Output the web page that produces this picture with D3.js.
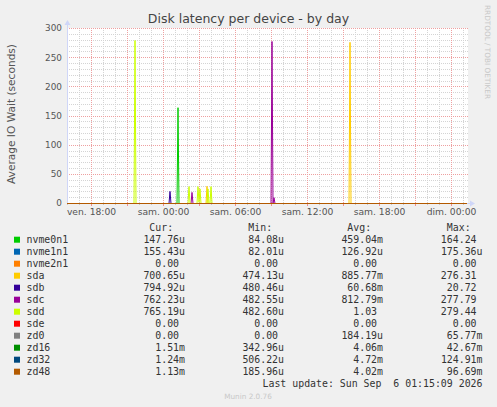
<!DOCTYPE html>
<meta charset="utf-8">
<style>
body { margin: 0; background: #f0f0f0; }
text { font-family: "DejaVu Sans", sans-serif; }
.mono { font-family: "DejaVu Sans Mono", monospace; font-size: 9.9px; fill: #333; }
</style>
<body>
<script src="https://d3js.org/d3.v7.min.js"></script>
<script>
var width = 497,
	height = 407,
	pLeft = 67,
	pRight = 467,
	pTop = 28,
	pBottom = 203;

var tStart = "2026-09-04 16:00",
	tEnd = "2026-09-06 01:20";

var names = ["nvme0n1", "nvme1n1", "nvme2n1", "sda", "sdb", "sdc", "sdd", "sde", "zd0", "zd16", "zd32", "zd48"];
var colors = ["#00cc00", "#0066b3", "#ff8000", "#ffcc00", "#330099", "#990099", "#ccff00", "#ff0000", "#808080", "#008f00", "#00487d", "#b35a00"];
var cur = ["147.76u", "155.43u", "0.00", "700.65u", "794.92u", "762.23u", "765.19u", "0.00", "0.00", "1.51m", "1.24m", "1.13m"];
var min = ["84.08u", "82.01u", "0.00", "474.13u", "480.46u", "482.55u", "482.60u", "0.00", "0.00", "342.96u", "506.22u", "185.96u"];
var avg = ["459.04m", "126.92u", "0.00", "885.77m", "60.68m", "812.79m", "1.03", "0.00", "184.19u", "4.06m", "4.72m", "4.02m"];
var max = ["164.24", "175.36u", "0.00", "276.31", "20.72", "277.79", "279.44", "0.00", "65.77m", "42.67m", "124.91m", "96.69m"];

// readings: [time, seconds]
var pts_nvme0n1 = [[tStart, 0], ["2026-09-05 01:10", 0], ["2026-09-05 01:15", 164.24], ["2026-09-05 01:20", 0], [tEnd, 0]];
var pts_nvme1n1 = [[tStart, 0], [tEnd, 0]];
var pts_nvme2n1 = [[tStart, 0], [tEnd, 0]];
var pts_sda = [[tStart, 0], ["2026-09-05 03:35", 0], ["2026-09-05 03:40", 29.5], ["2026-09-05 03:45", 0],
	["2026-09-05 15:30", 0], ["2026-09-05 15:35", 276.31], ["2026-09-05 15:40", 0], [tEnd, 0]];
var pts_sdb = [[tStart, 0], ["2026-09-05 00:30", 0], ["2026-09-05 00:35", 20.72], ["2026-09-05 00:40", 0], [tEnd, 0]];
var pts_sdc = [[tStart, 0], ["2026-09-05 02:20", 0], ["2026-09-05 02:25", 19], ["2026-09-05 02:30", 0],
	["2026-09-05 09:00", 0], ["2026-09-05 09:05", 277.79], ["2026-09-05 09:10", 0], ["2026-09-05 09:15", 10], ["2026-09-05 09:20", 0], [tEnd, 0]];
var pts_sdd = [[tStart, 0], ["2026-09-04 21:35", 0], ["2026-09-04 21:40", 279.44], ["2026-09-04 21:45", 0],
	["2026-09-05 02:05", 0], ["2026-09-05 02:10", 29], ["2026-09-05 02:15", 0],
	["2026-09-05 02:50", 0], ["2026-09-05 02:55", 29], ["2026-09-05 03:00", 2], ["2026-09-05 03:05", 25], ["2026-09-05 03:10", 0],
	["2026-09-05 03:40", 0], ["2026-09-05 03:45", 25], ["2026-09-05 03:50", 0],
	["2026-09-05 03:55", 0], ["2026-09-05 04:00", 29], ["2026-09-05 04:05", 0], [tEnd, 0]];
var pts_sde = [[tStart, 0], [tEnd, 0]];
var pts_zd0 = [[tStart, 0], [tEnd, 0]];
var pts_zd16 = [[tStart, 0], [tEnd, 0]];
var pts_zd32 = [[tStart, 0], [tEnd, 0]];
var pts_zd48 = [[tStart, 0], [tEnd, 0]];
var points = [pts_nvme0n1, pts_nvme1n1, pts_nvme2n1, pts_sda, pts_sdb, pts_sdc, pts_sdd, pts_sde, pts_zd0, pts_zd16, pts_zd32, pts_zd48];

var yTicks = [0, 50, 100, 150, 200, 250, 300];

var parse = d3.timeParse("%Y-%m-%d %H:%M");
var fr = d3.timeFormatLocale({
	dateTime: "%A %e %B %Y à %X", date: "%d/%m/%Y", time: "%H:%M:%S", periods: ["AM", "PM"],
	days: ["dimanche", "lundi", "mardi", "mercredi", "jeudi", "vendredi", "samedi"],
	shortDays: ["dim.", "lun.", "mar.", "mer.", "jeu.", "ven.", "sam."],
	months: ["janvier", "février", "mars", "avril", "mai", "juin", "juillet", "août", "septembre", "octobre", "novembre", "décembre"],
	shortMonths: ["janv.", "févr.", "mars", "avr.", "mai", "juin", "juil.", "août", "sept.", "oct.", "nov.", "déc."]
});

var x = d3.scaleTime().domain([parse(tStart), parse(tEnd)]).range([pLeft, pRight]);
var y = d3.scaleLinear().domain([0, 300]).range([pBottom, pTop]);

var svg = d3.select("body").append("svg")
			.attr("width", width)
			.attr("height", height);

svg.append("rect")
	.attr("x", pLeft).attr("y", pTop)
	.attr("width", pRight - pLeft + 1).attr("height", pBottom - pTop)
	.style("fill", "white");

var grid = svg.append("g").attr("shape-rendering", "crispEdges");

// minor grid
grid.selectAll(".hmin").data(d3.range(10, 301, 10).filter(function(v) { return v % 50; }))
	.enter().append("line")
	.attr("x1", pLeft).attr("x2", pRight + 1)
	.attr("y1", function(d) { return Math.round(y(d)) + 0.5; })
	.attr("y2", function(d) { return Math.round(y(d)) + 0.5; })
	.style("stroke", "#d4d4d4").style("stroke-dasharray", "1,1");

var hours = x.ticks(d3.timeHour.every(1));
grid.selectAll(".vmin").data(hours.filter(function(d) { return d.getHours() % 3; }))
	.enter().append("line")
	.attr("x1", function(d) { return Math.round(x(d)) + 0.5; })
	.attr("x2", function(d) { return Math.round(x(d)) + 0.5; })
	.attr("y1", pTop).attr("y2", pBottom)
	.style("stroke", "#d4d4d4").style("stroke-dasharray", "1,1");

// major grid
grid.selectAll(".hmaj").data(yTicks.slice(1))
	.enter().append("line")
	.attr("x1", pLeft).attr("x2", pRight + 1)
	.attr("y1", function(d) { return Math.round(y(d)) + 0.5; })
	.attr("y2", function(d) { return Math.round(y(d)) + 0.5; })
	.style("stroke", "#eea0a0").style("stroke-dasharray", "1,1");

grid.selectAll(".vmaj").data(hours.filter(function(d) { return d.getHours() % 3 == 0; }))
	.enter().append("line")
	.attr("x1", function(d) { return Math.round(x(d)) + 0.5; })
	.attr("x2", function(d) { return Math.round(x(d)) + 0.5; })
	.attr("y1", pTop).attr("y2", pBottom)
	.style("stroke", "#eea0a0").style("stroke-dasharray", "1,1");

// tick marks under the axis
grid.selectAll(".tk").data(hours)
	.enter().append("line")
	.attr("x1", function(d) { return Math.round(x(d)) + 0.5; })
	.attr("x2", function(d) { return Math.round(x(d)) + 0.5; })
	.attr("y1", pBottom).attr("y2", function(d) { return d.getHours() % 3 ? pBottom + 2 : pBottom + 3; })
	.style("stroke", function(d) { return d.getHours() % 3 ? "#c8c8c8" : "#f09090"; });

// axes frame
svg.append("line")
	.attr("x1", pLeft + 0.5).attr("x2", pLeft + 0.5).attr("y1", pTop - 4).attr("y2", pBottom)
	.style("stroke", "#cfd6f8");
svg.append("path").attr("d", "M" + (pLeft - 2.5) + "," + (pTop - 3) + "L" + (pLeft + 0.5) + "," + (pTop - 8) + "L" + (pLeft + 3.5) + "," + (pTop - 3) + "Z")
	.style("fill", "#cfd6f8");
svg.append("line")
	.attr("x1", pLeft).attr("x2", pRight + 4).attr("y1", pBottom + 0.5).attr("y2", pBottom + 0.5)
	.style("stroke", "#cfd6f8");
svg.append("path").attr("d", "M" + (pRight + 3) + "," + (pBottom - 2.5) + "L" + (pRight + 8) + "," + (pBottom + 0.5) + "L" + (pRight + 3) + "," + (pBottom + 3.5) + "Z")
	.style("fill", "#cfd6f8");

// series
var line = d3.line()
	.x(function(d) { return x(parse(d[0])); })
	.y(function(d) { return y(d[1]) + 0.5; });

svg.append("g").selectAll("path").data(points)
	.enter().append("path")
	.attr("d", line)
	.style("fill", "none")
	.style("stroke", function(d, i) { return colors[i]; })
	.style("stroke-width", 1);

// axis labels
var yAxis = svg.append("g")
	.attr("transform", "translate(" + (pLeft - 5) + ",0)")
	.call(d3.axisLeft(y).tickValues(yTicks).tickSize(0).tickPadding(0));
yAxis.select(".domain").remove();
yAxis.selectAll("text").style("font-family", "DejaVu Sans").style("font-size", "8.9px").style("fill", "#555");

var xAxis = svg.append("g")
	.attr("transform", "translate(0," + (pBottom + 4) + ")")
	.call(d3.axisBottom(x).ticks(d3.timeHour.every(6)).tickFormat(fr.format("%a %H:%M")).tickSize(0).tickPadding(1));
xAxis.select(".domain").remove();
xAxis.selectAll("text").style("font-family", "DejaVu Sans").style("font-size", "9.2px").style("fill", "#555");

svg.append("text")
	.attr("x", 248.5).attr("y", 23)
	.attr("text-anchor", "middle")
	.style("font-size", "12.5px").style("fill", "#444")
	.text("Disk latency per device - by day");

svg.append("text")
	.attr("transform", "translate(15,114)rotate(-90)")
	.attr("text-anchor", "middle")
	.style("font-size", "10.6px").style("fill", "#555")
	.text("Average IO Wait (seconds)");

svg.append("text")
	.attr("transform", "translate(485,5)rotate(90)")
	.style("font-size", "7.3px").style("fill", "#c8c8c8")
	.text("RRDTOOL / TOBI OETIKER");

// legend
var cols = [{ h: "Cur:", v: cur, r: 185 }, { h: "Min:", v: min, r: 284 }, { h: "Avg:", v: avg, r: 383 }, { h: "Max:", v: max, r: 482.5 }];
var charW = 5.96;

svg.selectAll(".hd").data(cols)
	.enter().append("text")
	.attr("class", "mono")
	.attr("x", function(d) { return d.r - 2 * charW; })
	.attr("y", 231)
	.attr("text-anchor", "end")
	.text(function(d) { return d.h; });

var rows = svg.append("g").selectAll("g").data(names)
	.enter().append("g")
	.attr("transform", function(d, i) { return "translate(0," + (239.7 + 12 * i) + ")"; });

rows.append("rect")
	.attr("x", 14).attr("y", -3).attr("width", 6).attr("height", 6)
	.style("fill", function(d, i) { return colors[i]; });

rows.append("text")
	.attr("class", "mono")
	.attr("x", 26.5).attr("y", 3.5)
	.text(function(d) { return d; });

cols.forEach(function(c) {
	rows.append("text")
		.attr("class", "mono")
		.attr("x", function(d, i) { return /[a-z]$/.test(c.v[i]) ? c.r : c.r - charW; })
		.attr("y", 3.5)
		.attr("text-anchor", "end")
		.text(function(d, i) { return c.v[i]; });
});

svg.append("text")
	.attr("class", "mono")
	.attr("x", 482.5).attr("y", 387)
	.attr("text-anchor", "end")
	.style("white-space", "pre")
	.text("Last update: Sun Sep  6 01:15:09 2026");

svg.append("text")
	.attr("x", 248).attr("y", 399)
	.attr("text-anchor", "middle")
	.style("font-size", "7.3px").style("fill", "#c8c8c8")
	.text("Munin 2.0.76");
</script>
</body>
